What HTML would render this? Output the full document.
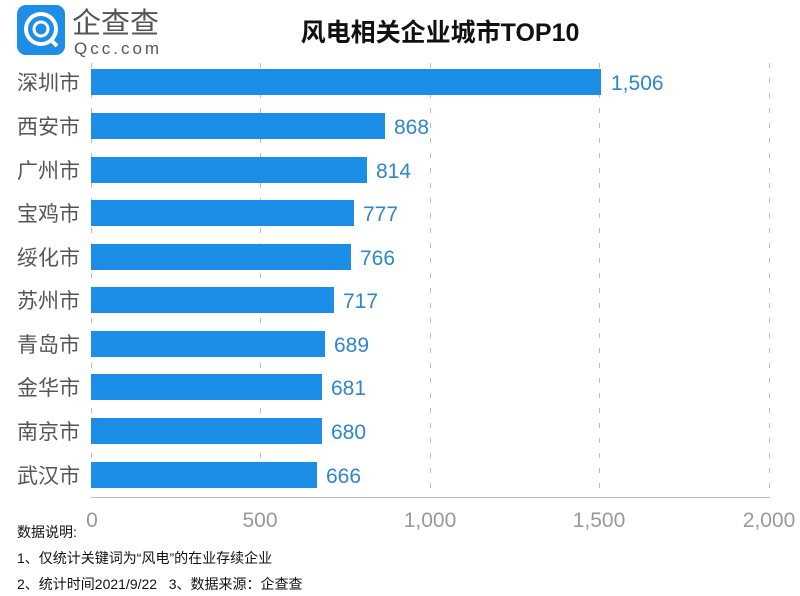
<!DOCTYPE html>
<html><head><meta charset="utf-8"><style>
body{margin:0;background:#fff}
svg{display:block;font-family:"Liberation Sans","Noto Sans CJK SC",sans-serif}
</style></head><body>
<svg width="800" height="596" viewBox="0 0 800 596" xmlns="http://www.w3.org/2000/svg">
<rect width="800" height="596" fill="#fff"/>
<rect x="17" y="5" width="48" height="50" rx="9" fill="#1e8de6"/>
<circle cx="41" cy="29" r="15" fill="none" stroke="#fff" stroke-width="4"/>
<circle cx="41" cy="29" r="7" fill="none" stroke="#fff" stroke-width="3"/>
<line x1="50" y1="39" x2="57" y2="46" stroke="#fff" stroke-width="4"/>
<text x="72" y="33" font-size="29" fill="#555">企查查</text>
<text x="74" y="54" font-size="17" fill="#555" letter-spacing="3">Qcc.com</text>
<text x="440" y="41" font-size="25" fill="#111" font-weight="bold" text-anchor="middle">风电相关企业城市TOP10</text>
<g stroke="#bbb" stroke-width="1" stroke-dasharray="5,10">
<line x1="260.5" y1="63" x2="260.5" y2="497"/>
<line x1="430.5" y1="63" x2="430.5" y2="497"/>
<line x1="599.5" y1="63" x2="599.5" y2="497"/>
<line x1="769.5" y1="63" x2="769.5" y2="497"/>
<line x1="91.5" y1="63" x2="91.5" y2="497"/>
</g>
<line x1="91" y1="497.5" x2="770" y2="497.5" stroke="#bbb"/>
<g font-size="21" fill="#999" text-anchor="middle">
<text x="92" y="527">0</text><text x="260" y="527">500</text><text x="430" y="527">1,000</text><text x="599" y="527">1,500</text><text x="769" y="527">2,000</text>
</g>
<g fill="#1c8ee8">
<rect x="91" y="69" width="510" height="26"/>
<rect x="91" y="113" width="294" height="26"/>
<rect x="91" y="157" width="276" height="26"/>
<rect x="91" y="200" width="263" height="26"/>
<rect x="91" y="244" width="260" height="26"/>
<rect x="91" y="287" width="243" height="26"/>
<rect x="91" y="331" width="234" height="26"/>
<rect x="91" y="374" width="231" height="26"/>
<rect x="91" y="418" width="231" height="26"/>
<rect x="91" y="462" width="226" height="26"/>
</g>
<g font-size="21" fill="#555">
<text x="17" y="90">深圳市</text><text x="17" y="134">西安市</text><text x="17" y="178">广州市</text><text x="17" y="221">宝鸡市</text><text x="17" y="265">绥化市</text><text x="17" y="308">苏州市</text><text x="17" y="352">青岛市</text><text x="17" y="395">金华市</text><text x="17" y="439">南京市</text><text x="17" y="483">武汉市</text>
</g>
<g font-size="21" fill="#2f86cc">
<text x="611" y="90">1,506</text><text x="394" y="134">868</text><text x="376" y="178">814</text><text x="363" y="221">777</text><text x="360" y="265">766</text><text x="343" y="308">717</text><text x="334" y="352">689</text><text x="331" y="395">681</text><text x="331" y="439">680</text><text x="326" y="483">666</text>
</g>
<g font-size="14" fill="#111">
<text x="17" y="537">数据说明:</text>
<text x="17" y="563">1、仅统计关键词为“风电”的在业存续企业</text>
<text x="17" y="589">2、统计时间2021/9/22&#160;&#160;&#160;3、数据来源：企查查</text>
</g>
</svg>
</body></html>
